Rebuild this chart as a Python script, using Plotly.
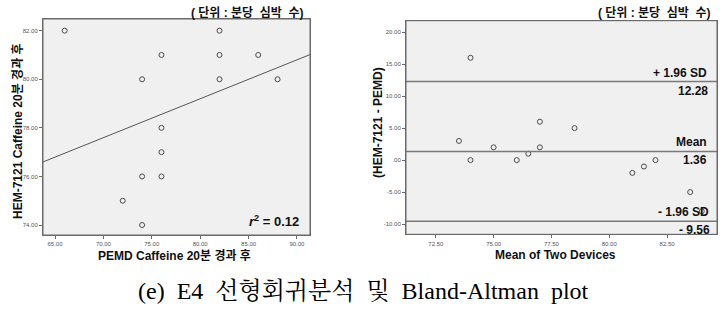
import numpy as np
import plotly.graph_objects as go

# Data: PEMD vs HEM-7121 (Caffeine, 20 min after)
pemd = [66, 74, 76, 82, 82, 82, 86, 88, 76, 76, 76, 74, 72, 74]
hem = [82, 80, 81, 82, 81, 80, 81, 80, 78, 77, 76, 76, 75, 74]

left_ticks = [65, 70, 75, 80, 85, 90]
left_ticklabels = ["65.00", "70.00", "75.00", "80.00", "85.00", "90.00"]
left_yticks = [74, 76, 78, 80, 82]
left_yticklabels = ["74.00", "76.00", "78.00", "80.00", "82.00"]
right_ticks = [72.5, 75, 77.5, 80, 82.5]
right_ticklabels = ["72.50", "75.00", "77.50", "80.00", "82.50"]
right_yticks = [-10, -5, 0, 5, 10, 15, 20]
right_yticklabels = ["-10.00", "-5.00", ".00", "5.00", "10.00", "15.00", "20.00"]

x = np.array(pemd, float)
y = np.array(hem, float)
slope, intercept = np.polyfit(x, y, 1)
r2 = np.corrcoef(x, y)[0, 1] ** 2
xr_left = [63.76, 91.35]

mean2 = (x + y) / 2
diff = y - x
md = round(diff.mean(), 2)
loa = round(1.96 * diff.std(ddof=1), 2)
upper = md + loa
lower = md - loa
xr_right = [71.21, 84.66]

W, H = 726, 312
def px(v):
    return v / W
def py(v):
    return 1 - v / H

fig = go.Figure()
mk = dict(symbol="circle-open", size=5, color="#4a4a4a", line=dict(width=1, color="#4a4a4a"))
fig.add_trace(go.Scatter(x=pemd, y=hem, mode="markers", marker=mk, xaxis="x", yaxis="y", showlegend=False))
lx = np.array(xr_left)
fig.add_trace(go.Scatter(x=lx, y=intercept + slope * lx, mode="lines", line=dict(color="#555555", width=1),
                         xaxis="x", yaxis="y", showlegend=False))
fig.add_trace(go.Scatter(x=mean2, y=diff, mode="markers", marker=mk, xaxis="x2", yaxis="y2", showlegend=False))
for v in (upper, md, lower):
    fig.add_trace(go.Scatter(x=xr_right, y=[v, v], mode="lines", line=dict(color="#7a7a7a", width=1.5),
                             xaxis="x2", yaxis="y2", showlegend=False))

tickfont = dict(size=6, color="#555555", family="Liberation Sans")
axcommon = dict(showgrid=False, zeroline=False, showline=True, mirror=True, linecolor="#6a6a6a",
                linewidth=1, ticks="outside", ticklen=3, tickcolor="#6a6a6a", tickfont=tickfont)

fig.update_layout(
    width=W, height=H, margin=dict(l=0, r=0, t=0, b=0),
    paper_bgcolor="white", plot_bgcolor="#f0f0f0",
    xaxis=dict(domain=[px(43), px(310)], range=xr_left, tickvals=left_ticks, ticktext=left_ticklabels,
               anchor="y", **axcommon),
    yaxis=dict(domain=[py(235), py(19)], range=[73.59, 82.48], tickvals=left_yticks,
               ticktext=left_yticklabels, anchor="x", **axcommon),
    xaxis2=dict(domain=[px(406), px(717)], range=xr_right, tickvals=right_ticks, ticktext=right_ticklabels,
                anchor="y2", **axcommon),
    yaxis2=dict(domain=[py(234.3), py(20.7)], range=[-11.6, 21.8], tickvals=right_yticks,
                ticktext=right_yticklabels, anchor="x2", **axcommon),
    shapes=[
        dict(type="rect", xref="x domain", yref="y domain", x0=0, x1=1, y0=0, y1=1,
             line=dict(color="#6a6a6a", width=1), layer="above"),
        dict(type="rect", xref="x2 domain", yref="y2 domain", x0=0, x1=1, y0=0, y1=1,
             line=dict(color="#6a6a6a", width=1), layer="above"),
    ],
)

bold = dict(family="Liberation Sans, Noto Sans CJK KR", size=12, color="#111111")
ann = []
def A(text, x, y, xanchor="center", yanchor="middle", angle=0, font=bold, xref="paper", yref="paper"):
    ann.append(dict(text=text, x=x, y=y, xref=xref, yref=yref, xanchor=xanchor, yanchor=yanchor,
                    textangle=angle, showarrow=False, font=font))

unit = "<b>(&nbsp;단위&nbsp;:&nbsp;분당&nbsp;&nbsp;심박&nbsp;&nbsp;수)</b>"
unitfont = dict(family="Liberation Sans, Noto Sans CJK KR", size=12, color="#111111")
A(unit, px(306), py(13), xanchor="right", font=unitfont)
A(unit, px(713), py(13), xanchor="right", font=unitfont)
A("<b>HEM-7121 Caffeine 20분 경과 후</b>", px(17), py(131), angle=-90)
A("<b>PEMD Caffeine 20분 경과 후</b>", px(174), py(255))
A("<b>(HEM-7121 - PEMD)</b>", px(378), py(123), angle=-90)
A("<b>Mean of Two Devices</b>", px(555), py(255))
A("<b><i>r</i><sup>2</sup> = 0.%02d</b>" % round(r2 * 100), px(301), py(221), xanchor="right",
  font=dict(family="Liberation Sans", size=13, color="#111111"))
lab = dict(family="Liberation Sans", size=12, color="#111111")
A("<b>+ 1.96 SD</b>", px(709), upper, xanchor="right", yanchor="bottom", yref="y2", font=lab)
A("<b>%.2f</b>" % upper, px(710), upper, xanchor="right", yanchor="top", yref="y2", font=lab)
A("<b>Mean</b>", px(709), md, xanchor="right", yanchor="bottom", yref="y2", font=lab)
A("<b>%.2f</b>" % md, px(709), md, xanchor="right", yanchor="top", yref="y2", font=lab)
A("<b>- 1.96 SD</b>", px(711), lower, xanchor="right", yanchor="bottom", yref="y2", font=lab)
A("<b>- %.2f</b>" % abs(lower), px(712), lower, xanchor="right", yanchor="top", yref="y2", font=lab)
A("(e)&nbsp;&nbsp;E4&nbsp;&nbsp;선형회귀분석&nbsp;&nbsp;및&nbsp;&nbsp;Bland-Altman&nbsp;&nbsp;plot", px(364), py(291),
  font=dict(family="Liberation Serif, Noto Serif CJK KR, Noto Sans CJK KR", size=24, color="black"))
fig.update_layout(annotations=ann)

fig.write_html("out.html")
